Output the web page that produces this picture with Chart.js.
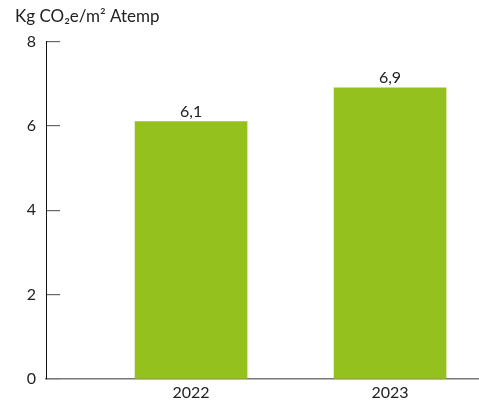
<!DOCTYPE html>
<html>
<head>
<meta charset="utf-8">
<script src="https://cdn.jsdelivr.net/npm/chart.js@4/dist/chart.umd.min.js"></script>
<style>
  html, body { margin: 0; padding: 0; background: #fff; }
  #wrap { width: 479px; height: 403px; position: relative; }
</style>
</head>
<body>
<div id="wrap"><canvas id="grafik"></canvas></div>
<script>
// Data utama
const tahun = ["2022", "2023"];
const nilai = [6.1, 6.9];
const labelNilai = ["6,1", "6,9"];
const tickY = [0, 2, 4, 6, 8];

const hijau = "#95c11f";
const fontUtama = "Lato, 'Noto Sans', sans-serif";

// Tulis angka di atas tiap batang
const labelBatang = {
  id: "labelBatang",
  afterDatasetsDraw(chart) {
    const ctx = chart.ctx;
    const meta = chart.getDatasetMeta(0);
    ctx.save();
    ctx.font = "16px " + fontUtama;
    ctx.fillStyle = "#222";
    ctx.textAlign = "center";
    ctx.textBaseline = "bottom";
    meta.data.forEach((bar, i) => {
      ctx.fillText(labelNilai[i], bar.x, bar.y - 2);
    });
    ctx.restore();
  }
};

const ctx = document.getElementById("grafik").getContext("2d");
new Chart(ctx, {
  type: "bar",
  data: {
    datasets: [{
      data: nilai.map((v, i) => ({ x: i + 1, y: v })),
      backgroundColor: hijau,
      barThickness: 112
    }]
  },
  options: {
    responsive: true,
    maintainAspectRatio: false,
    animation: false,
    layout: { padding: { left: 15, right: 0, top: 6, bottom: 0 } },
    plugins: {
      legend: { display: false },
      tooltip: { enabled: false },
      title: {
        display: true,
        text: "Kg CO\u2082e/m\u00b2 Atemp",
        align: "start",
        color: "#222",
        font: { family: fontUtama, size: 17, weight: "normal" },
        padding: { top: 0, bottom: 15 }
      }
    },
    scales: {
      x: {
        type: "linear",
        offset: false,
        min: 0.271,
        max: 2.447,
        afterBuildTicks: (scale) => {
          scale.ticks = tahun.map((t, i) => ({ value: i + 1 }));
        },
        afterFit: (scale) => { scale.height = 24; },
        grid: { display: false, drawTicks: false, offset: false },
        border: { display: true, color: "#777", width: 1.5 },
        ticks: {
          color: "#222",
          padding: 4,
          font: { family: fontUtama, size: 16 },
          callback: (v) => tahun[v - 1]
        }
      },
      y: {
        min: 0,
        max: 8,
        afterBuildTicks: (scale) => {
          scale.ticks = tickY.map(v => ({ value: v }));
        },
        afterFit: (scale) => {
          scale.width = 31;
          scale.paddingBottom = 0;
        },
        grid: {
          drawOnChartArea: false,
          tickLength: -14,
          color: "#666",
          lineWidth: 1.2
        },
        border: { display: true, color: "#111", width: 1 },
        ticks: {
          color: "#222",
          padding: 24,
          font: { family: fontUtama, size: 16 }
        }
      }
    }
  },
  plugins: [labelBatang]
});
</script>
</body>
</html>
